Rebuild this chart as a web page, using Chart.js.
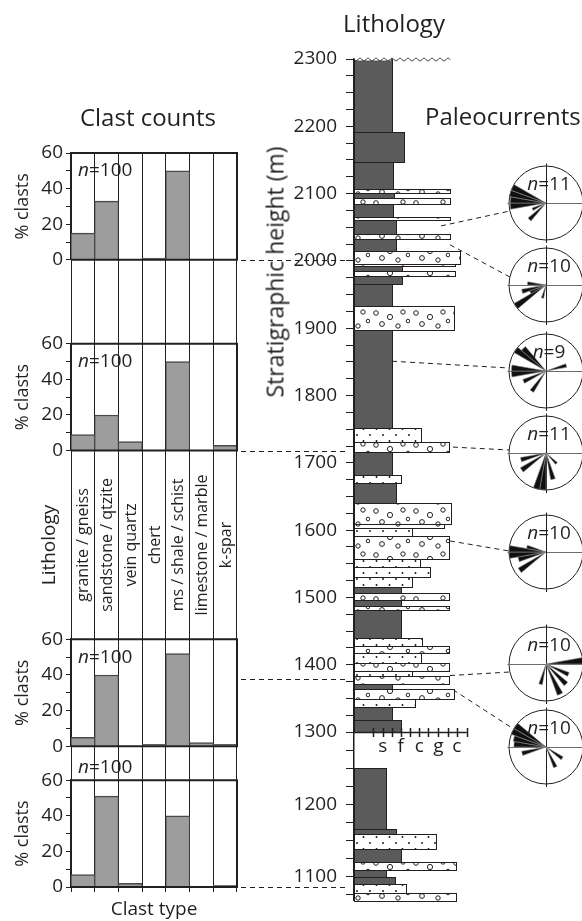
<!DOCTYPE html>
<html>
<head>
<meta charset="utf-8">
<script src="https://cdn.jsdelivr.net/npm/chart.js@4.4.1/dist/chart.umd.min.js"></script>
<style>
html, body { margin: 0; padding: 0; width: 582px; height: 921px; overflow: hidden; background: #fff; }
body { position: relative; font-family: 'Open Sans', sans-serif; color: #231f20; }
canvas { position: absolute; }
.t { position: absolute; white-space: nowrap; line-height: 1; }
</style>
</head>
<body>

<canvas id="clastChart" width="350" height="921" style="left:0;top:0"></canvas>
<canvas id="columnChart" width="332" height="921" style="left:250px;top:0"></canvas>

<div class="t" style="left:148px;top:117px;font-size:24px;transform:translate(-50%,-50%)">Clast counts</div>
<div class="t" style="left:394px;top:23px;font-size:24px;transform:translate(-50%,-50%)">Lithology</div>
<div class="t" style="left:425px;top:116px;font-size:24px;transform:translateY(-50%)">Paleocurrents</div>
<div class="t" style="left:275px;top:272px;font-size:23px;transform:translate(-50%,-50%) rotate(-90deg)">Stratigraphic height (m)</div>

<script>
/* ==========================================================
   DATA
========================================================== */

const clastTypes = [
    "granite / gneiss",
    "sandstone / qtzite",
    "vein quartz",
    "chert",
    "ms / shale / schist",
    "limestone / marble",
    "k-spar"
];

// % clasts, top sample first
const clastCounts1 = [15, 33, 0, 1, 50, 0, 0];
const clastCounts2 = [9, 20, 5, 0, 50, 0, 3];
const clastCounts3 = [5, 40, 0, 1, 52, 2, 1];
const clastCounts4 = [7, 51, 2, 0, 40, 0, 1];
const clastN = [100, 100, 100, 100];
const clastTicks = [0, 20, 40, 60];

// level (% clasts) where each panel's dashed tie line leaves
const tieLevels = [0, 0, 37.5, 0];

// measured section, top to bottom (m)
const bedTop = [
    2300, 2192, 2147, 2107, 2101, 2093, 2084, 2066, 2061, 2040,
    2032, 2015, 1996, 1992, 1985, 1978, 1965, 1933, 1897, 1752,
    1731, 1716, 1682, 1670, 1640, 1609, 1603, 1591, 1557, 1546,
    1531, 1515, 1506, 1496, 1488, 1481, 1440, 1428, 1418, 1402,
    1391, 1384, 1371, 1364, 1349, 1338, 1318,
    1250, 1166, 1159, 1139, 1120, 1110, 1100, 1090, 1078
];
const bedBase = [
    2192, 2147, 2107, 2101, 2093, 2084, 2066, 2061, 2040, 2032,
    2015, 1996, 1992, 1985, 1978, 1965, 1933, 1897, 1752, 1731,
    1716, 1682, 1670, 1640, 1609, 1603, 1591, 1557, 1546, 1531,
    1515, 1506, 1496, 1488, 1481, 1440, 1428, 1418, 1402, 1391,
    1384, 1371, 1364, 1349, 1338, 1318, 1300,
    1166, 1159, 1139, 1120, 1110, 1100, 1090, 1078, 1067
];
// weathering profile (grain-size scale units)
const bedGrain = [
    38, 50, 39, 96, 40, 96, 39, 96, 42, 96,
    42, 106, 101, 48, 101, 48, 38, 100, 38, 67,
    95, 38, 47, 42, 97, 90, 58, 95, 66, 76,
    58, 47, 95, 47, 95, 47, 68, 95, 67, 95,
    58, 95, 38, 100, 61, 38, 47,
    32, 42, 82, 47, 102, 32, 41, 52, 102
];
const bedRock = [
    "mud", "mud", "mud", "cgl", "mud", "cgl", "mud", "cgl", "mud", "cgl",
    "mud", "cgl", "cgl", "mud", "cgl", "mud", "mud", "cgl", "mud", "sand",
    "cgl", "mud", "sand", "mud", "cgl", "cgl", "sand", "cgl", "sand", "sand",
    "sand", "mud", "cgl", "mud", "cgl", "mud", "sand", "cgl", "sand", "cgl",
    "sand", "cgl", "mud", "cgl", "sand", "mud", "mud",
    "mud", "mud", "sand", "mud", "cgl", "mud", "mud", "sand", "cgl"
];

const heightLabels = [1100, 1200, 1300, 1400, 1500, 1600, 1700, 1800, 1900, 2000, 2100, 2200, 2300];
const grainTicks = [18.7, 28.7, 37.7, 46.7, 56, 65.3, 74.3, 84.3, 93.7, 102.7, 112.7];
const grainLabels = ["s", "f", "c", "g", "c"];

// paleocurrent roses: [bin start azimuth, count]
const compassBins = [0, 10, 20, 30, 40, 50, 60, 70, 80, 90, 100, 110, 120, 130, 140, 150, 160, 170,
    180, 190, 200, 210, 220, 230, 240, 250, 260, 270, 280, 290, 300, 310, 320, 330, 340, 350];
const rose1 = [[290, 3], [280, 3], [270, 2.9], [260, 2.9], [240, 1.2], [220, 1.9]];
const rose2 = [[270, 1.5], [250, 2], [240, 1.4], [230, 3], [190, 1.1]];
const rose3 = [[310, 2.6], [300, 3], [270, 2.8], [260, 2.8], [240, 2], [210, 2], [70, 1.7]];
const rose4 = [[250, 2.1], [230, 2.4], [190, 3], [180, 3], [160, 2.2], [130, 1.2]];
const rose5 = [[270, 3], [260, 3], [280, 1.6], [250, 2.3], [230, 2.6]];
const rose6 = [[80, 3], [110, 2], [130, 2.3], [150, 2.7], [190, 1.7]];
const rose7 = [[300, 3], [290, 3], [280, 2.7], [270, 2.6], [250, 2], [150, 1.8], [120, 1.6]];
const roseN = [11, 10, 9, 11, 10, 10, 10];

// where each rose is tied to the section
const roseTieHeight = [2052, 2024, 1851, 1731, 1584, 1384, 1363];
const roseTieGrain = [87, 96, 38, 0, 96, 96, 99];

/* ==========================================================
   LAYOUT
========================================================== */

const FONT = "'Open Sans', sans-serif";
const INK = "#231f20";
const COLUMN_LEFT = 250;
const ROSE_CX = 546;
const ROSE_R = 37;
const roseCenterY = [203, 285, 371, 453, 552, 664, 747];
const roseTieDy = [8, -8, -3, -3, -1, 8, -18];

Chart.defaults.font.family = FONT;
Chart.defaults.color = INK;
Chart.defaults.animation = false;

/* ==========================================================
   CLAST COUNT PANELS
========================================================== */

const panelIds = ["p1", "p2", "p3", "p4"];

function panelAxis(weight) {
    return {
        type: "linear",
        position: "left",
        stack: "clast",
        stackWeight: 107,
        weight: weight,
        min: 0,
        max: 60,
        border: { display: true, color: INK, width: 2 },
        grid: { drawOnChartArea: false, drawTicks: true, tickLength: 5, color: INK, lineWidth: 1 },
        ticks: {
            stepSize: 10,
            autoSkip: false,
            padding: 3,
            color: INK,
            font: { size: 19 },
            callback: v => clastTicks.includes(v) ? v : ""
        },
        title: { display: true, text: "% clasts", color: INK, font: { size: 18 }, padding: { top: 12, bottom: 0 } },
        afterFit: s => { s.width = 71; }
    };
}

function spacerAxis(weight, size) {
    return {
        type: "linear",
        position: "left",
        stack: "clast",
        stackWeight: size,
        weight: weight,
        display: false,
        afterFit: s => { s.width = 71; }
    };
}

const clastPanels = {
    id: "clastPanels",
    afterDatasetsDraw(chart) {
        const { ctx, chartArea, scales } = chart;
        const x = scales.x;
        ctx.save();

        // panel frames
        ctx.strokeStyle = INK;
        ctx.lineWidth = 2;
        panelIds.forEach(id => {
            const s = scales[id];
            const yTop = s.getPixelForValue(60);
            const yBot = s.getPixelForValue(0);
            ctx.beginPath();
            ctx.moveTo(chartArea.left, yTop);
            ctx.lineTo(chartArea.right, yTop);
            ctx.lineTo(chartArea.right, yBot);
            ctx.lineTo(chartArea.left, yBot);
            ctx.stroke();
        });

        // sample size
        const nLevel = [50, 50, 50, 67];
        ctx.fillStyle = INK;
        ctx.textBaseline = "middle";
        ctx.textAlign = "left";
        panelIds.forEach((id, i) => {
            const y = scales[id].getPixelForValue(nLevel[i]);
            const x0 = chartArea.left + 7;
            ctx.font = "italic 19px " + FONT;
            ctx.fillText("n", x0, y);
            const w = ctx.measureText("n").width;
            ctx.font = "19px " + FONT;
            ctx.fillText("=" + clastN[i], x0 + w, y);
        });

        // clast type names
        const lab = scales.lab;
        const midY = (lab.top + lab.bottom) / 2;
        ctx.font = "16px " + FONT;
        ctx.textAlign = "center";
        clastTypes.forEach((t, i) => {
            ctx.save();
            ctx.translate(x.getPixelForValue(i), midY);
            ctx.rotate(-Math.PI / 2);
            ctx.fillText(t, 0, 1);
            ctx.restore();
        });

        // dashed tie lines to the section
        ctx.setLineDash([5, 4]);
        ctx.lineWidth = 1;
        ctx.strokeStyle = INK;
        tieLevels.forEach((v, i) => {
            const y = Math.round(scales[panelIds[i]].getPixelForValue(v)) + 0.5;
            ctx.beginPath();
            ctx.moveTo(chartArea.right + 4, y);
            ctx.lineTo(chart.width - 3, y);
            ctx.stroke();
        });

        ctx.restore();
    }
};

new Chart(document.getElementById("clastChart"), {
    type: "bar",
    data: {
        labels: clastTypes,
        datasets: [clastCounts1, clastCounts2, clastCounts3, clastCounts4].map((d, i) => ({
            data: d,
            yAxisID: panelIds[i],
            backgroundColor: "#9d9d9d",
            borderColor: "#4a4a4a",
            borderWidth: { top: 1.5, left: 1, right: 1, bottom: 0 },
            grouped: false,
            barPercentage: 1,
            categoryPercentage: 1
        }))
    },
    options: {
        responsive: false,
        maintainAspectRatio: false,
        layout: { padding: { top: 153, right: 113, bottom: 0, left: 0 } },
        plugins: { legend: { display: false }, tooltip: { enabled: false } },
        scales: {
            x: {
                type: "category",
                position: "bottom",
                offset: true,
                grid: { offset: true, color: INK, lineWidth: 1, drawTicks: true, tickLength: 5 },
                border: { display: false },
                ticks: { display: false },
                title: { display: true, text: "Clast type", color: INK, font: { size: 19 }, padding: { top: 0, bottom: 0 } },
                afterFit: s => { s.height = 34; }
            },
            p1: panelAxis(7),
            g1: spacerAxis(6, 84),
            p2: panelAxis(5),
            lab: {
                type: "linear",
                position: "left",
                stack: "clast",
                stackWeight: 189,
                weight: 4,
                ticks: { display: false },
                grid: { display: false },
                border: { display: false },
                title: { display: true, text: "Lithology", color: INK, font: { size: 19 }, padding: { top: 38, bottom: 0 } },
                afterFit: s => { s.width = 71; }
            },
            p3: panelAxis(3),
            g2: spacerAxis(2, 34),
            p4: panelAxis(1)
        }
    },
    plugins: [clastPanels]
});

/* ==========================================================
   STRATIGRAPHIC COLUMN
========================================================== */

function makePattern(ctx, kind) {
    const c = document.createElement("canvas");
    const g = c.getContext("2d");
    if (kind === "sand") {
        c.width = 13; c.height = 12;
        g.fillStyle = "#fff";
        g.fillRect(0, 0, 13, 12);
        g.fillStyle = "#111";
        [[3, 3], [9.5, 9]].forEach(p => {
            g.beginPath(); g.arc(p[0], p[1], 0.95, 0, Math.PI * 2); g.fill();
        });
    } else {
        c.width = 40; c.height = 22;
        g.fillStyle = "#fff";
        g.fillRect(0, 0, 40, 22);
        g.strokeStyle = "#222";
        g.lineWidth = 1;
        [[6, 5, 2.3], [20, 9, 2.6], [33, 4, 2.2], [12, 16, 2.4], [28, 18, 2.2], [38, 13, 1.8]].forEach(p => {
            g.beginPath(); g.arc(p[0], p[1], p[2], 0, Math.PI * 2); g.stroke();
        });
    }
    return ctx.createPattern(c, "repeat");
}

const sectionDraw = {
    id: "sectionDraw",
    afterDatasetsDraw(chart) {
        const { ctx, scales } = chart;
        const xs = scales.x;
        const py = (h, top) => {
            const s = (top ? h > 1300 : h >= 1300) ? scales.upper : scales.lower;
            return s.getPixelForValue(h);
        };
        const fills = {
            mud: "#5b5b5b",
            sand: makePattern(ctx, "sand"),
            cgl: makePattern(ctx, "cgl")
        };

        ctx.save();

        // dashed ties from the section to the roses
        ctx.setLineDash([5, 4]);
        ctx.strokeStyle = INK;
        ctx.lineWidth = 1;
        roseTieHeight.forEach((h, i) => {
            const x0 = xs.getPixelForValue(roseTieGrain[i]);
            const y0 = py(h, true);
            const dy = roseTieDy[i];
            const x1 = ROSE_CX - Math.sqrt(ROSE_R * ROSE_R - dy * dy) - COLUMN_LEFT;
            const y1 = roseCenterY[i] + dy;
            ctx.beginPath();
            ctx.moveTo(x0, y0);
            ctx.lineTo(x1, y1);
            ctx.stroke();
        });
        ctx.setLineDash([]);

        // beds
        bedTop.forEach((top, i) => {
            const x0 = Math.round(xs.getPixelForValue(0)) + 0.5;
            const x1 = Math.round(xs.getPixelForValue(bedGrain[i])) + 0.5;
            const yT = Math.round(py(top, true)) + 0.5;
            const yB = Math.round(py(bedBase[i], false)) + 0.5;
            ctx.fillStyle = fills[bedRock[i]];
            ctx.fillRect(x0, yT, x1 - x0, yB - yT);
            ctx.strokeStyle = INK;
            ctx.lineWidth = 1;
            ctx.strokeRect(x0, yT, x1 - x0, yB - yT);
        });

        // erosional top of section
        const yTop = Math.round(scales.upper.getPixelForValue(2300)) + 0.5;
        ctx.strokeStyle = "#fff";
        ctx.lineWidth = 2;
        ctx.beginPath();
        ctx.moveTo(xs.getPixelForValue(0) + 1, yTop);
        ctx.lineTo(xs.getPixelForValue(38) - 1, yTop);
        ctx.stroke();
        ctx.strokeStyle = INK;
        ctx.lineWidth = 1;
        ctx.beginPath();
        for (let g = 0; g <= 96; g += 0.5) {
            const X = xs.getPixelForValue(g);
            const Y = yTop + 1.3 * Math.sin(g * Math.PI / 4);
            if (g === 0) ctx.moveTo(X, Y); else ctx.lineTo(X, Y);
        }
        ctx.stroke();

        // grain-size scale
        const yG = Math.round(scales.upper.getPixelForValue(1300)) + 0.5;
        ctx.beginPath();
        ctx.moveTo(xs.getPixelForValue(0), yG);
        ctx.lineTo(xs.getPixelForValue(grainTicks[grainTicks.length - 1]), yG);
        ctx.lineWidth = 1.5;
        ctx.stroke();
        grainTicks.forEach(g => {
            const X = Math.round(xs.getPixelForValue(g)) + 0.5;
            ctx.beginPath();
            ctx.moveTo(X, yG - 4.5);
            ctx.lineTo(X, yG + 4.5);
            ctx.stroke();
        });
        ctx.fillStyle = INK;
        ctx.font = "19px " + FONT;
        ctx.textAlign = "center";
        ctx.textBaseline = "middle";
        grainLabels.forEach((t, i) => {
            ctx.fillText(t, xs.getPixelForValue(grainTicks[i * 2 + 1]), yG + 14);
        });

        ctx.restore();
    }
};

function heightAxis(min, max, weight, size, showTop) {
    return {
        type: "linear",
        position: "left",
        stack: "col",
        stackWeight: size,
        weight: weight,
        min: min,
        max: max,
        border: { display: true, color: INK, width: 1.5 },
        grid: { drawOnChartArea: false, drawTicks: true, tickLength: 8, color: INK, lineWidth: 1 },
        ticks: {
            stepSize: 25,
            autoSkip: false,
            includeBounds: false,
            padding: 9,
            color: INK,
            font: { size: 19 },
            callback: v => (heightLabels.includes(v) && (showTop || v < max)) ? v : ""
        },
        afterFit: s => { s.width = 104; }
    };
}

new Chart(document.getElementById("columnChart"), {
    type: "scatter",
    data: { datasets: [] },
    options: {
        responsive: false,
        maintainAspectRatio: false,
        layout: { padding: { top: 59, right: 108, bottom: 3, left: 0 } },
        plugins: { legend: { display: false }, tooltip: { enabled: false } },
        scales: {
            x: { type: "linear", min: 0, max: 120, display: false },
            upper: heightAxis(1300, 2300, 2, 687, true),
            lower: heightAxis(1067, 1300, 1, 172, false)
        }
    },
    plugins: [sectionDraw]
});

/* ==========================================================
   PALEOCURRENT ROSES
========================================================== */

const roseCross = {
    id: "roseCross",
    beforeDatasetsDraw(chart) {
        const r = chart.scales.r;
        const { ctx } = chart;
        const cx = r.xCenter + 0.5;
        const cy = r.yCenter + 0.5;
        const R = r.drawingArea;
        ctx.save();
        ctx.lineWidth = 1;
        ctx.strokeStyle = "#6d6d6d";
        ctx.beginPath();
        ctx.moveTo(cx - R - 2, cy);
        ctx.lineTo(cx + R, cy);
        ctx.stroke();
        ctx.strokeStyle = INK;
        ctx.beginPath();
        ctx.moveTo(cx, cy - R - 3);
        ctx.lineTo(cx, cy + R + 3);
        ctx.stroke();
        ctx.restore();
    }
};

[rose1, rose2, rose3, rose4, rose5, rose6, rose7].forEach((rose, i) => {
    const canvas = document.createElement("canvas");
    canvas.width = 80;
    canvas.height = 80;
    canvas.style.left = (ROSE_CX - 40) + "px";
    canvas.style.top = (roseCenterY[i] - 40) + "px";
    document.body.appendChild(canvas);

    const counts = compassBins.map(b => {
        const hit = rose.find(p => p[0] === b);
        return hit ? hit[1] : 0;
    });

    new Chart(canvas, {
        type: "polarArea",
        data: {
            labels: compassBins,
            datasets: [{
                data: counts,
                backgroundColor: "#111",
                borderColor: "#8a8a8a",
                borderWidth: 0.6
            }]
        },
        options: {
            responsive: false,
            maintainAspectRatio: false,
            layout: { padding: 3 },
            plugins: { legend: { display: false }, tooltip: { enabled: false } },
            scales: {
                r: {
                    min: 0,
                    max: 3,
                    ticks: { display: false, stepSize: 3 },
                    grid: { color: INK, lineWidth: 1 },
                    angleLines: { display: false },
                    pointLabels: { display: false }
                }
            }
        },
        plugins: [roseCross]
    });

    const lab = document.createElement("div");
    lab.className = "t";
    lab.style.left = "549px";
    lab.style.top = (roseCenterY[i] - 20) + "px";
    lab.style.fontSize = "19px";
    lab.style.transform = "translate(-50%,-50%)";
    lab.innerHTML = "<i>n</i>=" + roseN[i];
    document.body.appendChild(lab);
});
</script>
</body>
</html>
